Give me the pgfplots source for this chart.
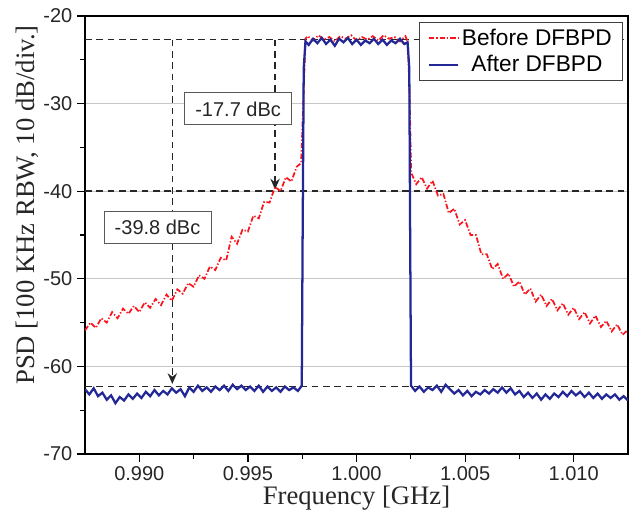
\documentclass[border=0pt]{standalone}
\usepackage{pgfplots}
\pgfplotsset{compat=1.18}
\usepackage{fontspec}
\setmainfont{Liberation Sans}
\newfontfamily\seriffont{Liberation Serif}
\usetikzlibrary{arrows.meta}
\definecolor{myred}{RGB}{250,20,30}
\definecolor{myblue}{RGB}{35,40,150}
\begin{document}
\begin{tikzpicture}
\begin{axis}[
  scale only axis, width=407.25pt, height=328.5pt,
  xmin=0.9875, xmax=1.0125, ymin=-70, ymax=-20,
  xtick={0.99,0.995,1,1.005,1.01},
  minor xtick={0.9925,0.9975,1.0025,1.0075},
  ytick={-70,-60,-50,-40,-30,-20},
  minor ytick={-65,-55,-45,-35,-25},
  tick align=outside, xtick pos=bottom, ytick pos=left,
  major tick length=6pt, minor tick length=4pt,
  every tick/.style={black, line width=0.9pt},
  axis line style={line width=1pt},
  ymajorgrids, grid style={black!22, line width=0.7pt},
  scaled x ticks=false,
  /pgf/number format/assume math mode=true,
  xticklabel style={/pgf/number format/.cd, fixed, fixed zerofill, precision=3},
  tick label style={font=\fontsize{15}{17}\selectfont, text=black!85},
  xlabel={\seriffont Frequency [GHz]},
  ylabel={\seriffont PSD [100 KHz RBW, 10 dB/div.]},
  label style={font=\fontsize{20}{22}\selectfont, text=black!85},
  xlabel style={at={(axis description cs:0.5,0)}, anchor=center, yshift=-33pt},
  ylabel style={at={(axis description cs:0,0.5)}, anchor=center, xshift=22.5pt, yshift=43pt},
  legend style={at={(1,1)}, anchor=north east, xshift=-3.75pt, yshift=-4.5pt,
    font=\fontsize{17}{19}\selectfont, draw=black!75, line width=0.7pt,
    fill=white, inner xsep=6pt, inner ysep=3pt, row sep=2pt},
  legend image code/.code={\draw[#1] (0pt,0pt) -- (22pt,0pt);},
  clip=true,
]
% dashed reference lines (behind data)
\draw[black!85, line width=1.2pt, dash pattern=on 5pt off 3.5pt] (axis cs:0.9875,-22.7) -- (axis cs:1.0125,-22.7);
\draw[black!85, line width=1.2pt, dash pattern=on 5pt off 3.5pt] (axis cs:0.9875,-40) -- (axis cs:1.0125,-40);
\draw[black!85, line width=1.2pt, dash pattern=on 5pt off 3.5pt] (axis cs:0.9875,-62.3) -- (axis cs:1.0125,-62.3);
\draw[black!85, line width=1.2pt, dash pattern=on 5pt off 3.5pt, -{Stealth[length=8pt,width=7pt]}] (axis cs:0.99152,-22.7) -- (axis cs:0.99152,-62.0);
\draw[black!85, line width=1.2pt, dash pattern=on 5pt off 3.5pt, -{Stealth[length=8pt,width=7pt]}] (axis cs:0.99625,-22.7) -- (axis cs:0.99625,-39.8);

\addplot[myred, line width=1.3pt, dash pattern=on 4pt off 1.5pt on 1pt off 1.5pt] coordinates {
(0.98750,-55.9) (0.98775,-55.0) (0.98800,-55.6) (0.98825,-54.5) (0.98850,-55.0)
(0.98875,-53.8) (0.98900,-54.5) (0.98925,-53.4) (0.98950,-54.0) (0.98975,-53.1)
(0.99000,-53.8) (0.99025,-52.7) (0.99050,-53.3) (0.99075,-52.3) (0.99100,-53.0)
(0.99125,-51.8) (0.99150,-52.5) (0.99175,-51.2) (0.99200,-51.7) (0.99225,-50.5)
(0.99250,-50.9) (0.99275,-49.6) (0.99300,-50.0) (0.99325,-48.6) (0.99350,-49.0)
(0.99375,-47.6) (0.99400,-47.9) (0.99425,-45.2) (0.99450,-46.0) (0.99475,-44.4)
(0.99500,-44.6) (0.99525,-42.8) (0.99550,-43.1) (0.99575,-41.2) (0.99600,-41.3)
(0.99625,-39.5) (0.99650,-40.0) (0.99675,-38.4) (0.99700,-38.9) (0.99725,-37.2)
(0.99745,-36.8) (0.99755,-30.0) (0.99765,-22.6)
(0.99775,-22.3) (0.99800,-22.8) (0.99825,-22.2) (0.99850,-22.7) (0.99875,-22.4)
(0.99900,-22.9) (0.99925,-22.3) (0.99950,-22.6) (0.99975,-22.2) (1.00000,-22.8)
(1.00025,-22.4) (1.00050,-22.7) (1.00075,-22.3) (1.00100,-22.8) (1.00125,-22.2)
(1.00150,-22.6) (1.00175,-22.4) (1.00200,-22.9) (1.00225,-22.3)
(1.00237,-23.0) (1.00245,-30.0) (1.00252,-37.9)
(1.00275,-39.2) (1.00300,-38.4) (1.00325,-39.7) (1.00350,-38.8) (1.00375,-40.5)
(1.00400,-40.3) (1.00425,-42.5) (1.00450,-42.0) (1.00475,-43.8) (1.00500,-43.3)
(1.00525,-45.0) (1.00550,-45.0) (1.00575,-47.2) (1.00600,-47.2) (1.00625,-48.9)
(1.00650,-48.3) (1.00675,-50.0) (1.00700,-49.4) (1.00725,-50.9) (1.00750,-50.3)
(1.00775,-51.8) (1.00800,-51.1) (1.00825,-52.6) (1.00850,-51.8) (1.00875,-53.1)
(1.00900,-52.3) (1.00925,-53.6) (1.00950,-52.8) (1.00975,-54.1) (1.01000,-53.3)
(1.01025,-54.6) (1.01050,-53.8) (1.01075,-55.1) (1.01100,-54.2) (1.01125,-55.5)
(1.01150,-54.8) (1.01175,-56.0) (1.01200,-55.2) (1.01225,-56.4) (1.01250,-55.8)
};
\addlegendentry{Before DFBPD}

\addplot[myblue, line width=1.7pt] coordinates {
(0.9875,-62.6) (0.9877,-63.2) (0.9879,-62.5) (0.9881,-63.4) (0.9883,-63.0)
(0.9885,-63.8) (0.9887,-63.3) (0.9889,-64.2) (0.9891,-63.5) (0.9893,-63.9)
(0.9895,-63.2) (0.9897,-63.7) (0.9899,-63.1) (0.9901,-63.6) (0.9903,-62.9)
(0.9905,-63.4) (0.9907,-62.7) (0.9909,-63.3) (0.9911,-62.8) (0.9913,-63.2)
(0.9915,-62.5) (0.9917,-63.0) (0.9919,-62.6) (0.9921,-63.4) (0.9923,-62.4)
(0.9925,-62.9) (0.9927,-62.2) (0.9929,-62.8) (0.9931,-62.4) (0.9933,-62.9)
(0.9935,-62.3) (0.9937,-62.7) (0.9939,-62.2) (0.9941,-62.8) (0.9943,-62.1)
(0.9945,-62.6) (0.9947,-62.2) (0.9949,-62.7) (0.9951,-62.3) (0.9953,-62.8)
(0.9955,-62.2) (0.9957,-62.9) (0.9959,-62.3) (0.9961,-62.8) (0.9963,-62.4)
(0.9965,-62.9) (0.9967,-62.3) (0.9969,-62.7) (0.9971,-62.4) (0.9973,-62.8)
(0.99748,-62.2) (0.99752,-45.0) (0.99757,-26.0) (0.99765,-22.9)
(0.9978,-23.3) (0.9980,-22.6) (0.9982,-23.1) (0.9984,-22.5) (0.9986,-23.2)
(0.9988,-22.7) (0.9990,-23.4) (0.9992,-22.6) (0.9994,-23.0) (0.9996,-22.5)
(0.9998,-23.2) (1.0000,-22.7) (1.0002,-23.3) (1.0004,-22.8) (1.0006,-23.1)
(1.0008,-22.6) (1.0010,-23.2) (1.0012,-22.7) (1.0014,-23.3) (1.0016,-22.8)
(1.0018,-23.1) (1.0020,-22.6) (1.0022,-23.2) (1.00235,-23.0)
(1.00243,-26.0) (1.00247,-45.0) (1.00251,-62.2)
(1.0027,-62.8) (1.0029,-62.3) (1.0031,-62.9) (1.0033,-62.4) (1.0035,-62.7)
(1.0037,-62.2) (1.0039,-62.9) (1.0041,-62.1) (1.0043,-62.6) (1.0045,-63.1)
(1.0047,-62.7) (1.0049,-63.3) (1.0051,-62.8) (1.0053,-63.4) (1.0055,-62.9)
(1.0057,-63.2) (1.0059,-62.7) (1.0061,-63.1) (1.0063,-62.6) (1.0065,-63.0)
(1.0067,-62.4) (1.0069,-63.0) (1.0071,-62.5) (1.0073,-63.2) (1.0075,-62.8)
(1.0077,-63.5) (1.0079,-63.0) (1.0081,-63.6) (1.0083,-63.1) (1.0085,-63.8)
(1.0087,-63.2) (1.0089,-63.7) (1.0091,-63.1) (1.0093,-63.5) (1.0095,-62.9)
(1.0097,-63.4) (1.0099,-62.8) (1.0101,-63.3) (1.0103,-62.9) (1.0105,-63.5)
(1.0107,-63.0) (1.0109,-63.6) (1.0111,-63.1) (1.0113,-63.7) (1.0115,-63.2)
(1.0117,-63.6) (1.0119,-63.2) (1.0121,-63.8) (1.0123,-63.4) (1.0125,-63.9)
};
\addlegendentry{After DFBPD}

\node[draw=black!65, line width=0.7pt, fill=white, inner xsep=8pt, minimum height=24pt,
  font=\fontsize{15}{17}\selectfont, text=black!85] at (axis cs:0.99455,-30.6) {-17.7 dBc};
\node[draw=black!65, line width=0.7pt, fill=white, inner xsep=8pt, minimum height=24pt,
  font=\fontsize{15}{17}\selectfont, text=black!85] at (axis cs:0.99084,-44.1) {-39.8 dBc};
\end{axis}
\pgfresetboundingbox
\path[use as bounding box] ([xshift=-63.75pt,yshift=-47.25pt]current axis.south west) rectangle ([xshift=9.75pt,yshift=12pt]current axis.north east);
\end{tikzpicture}
\end{document}
